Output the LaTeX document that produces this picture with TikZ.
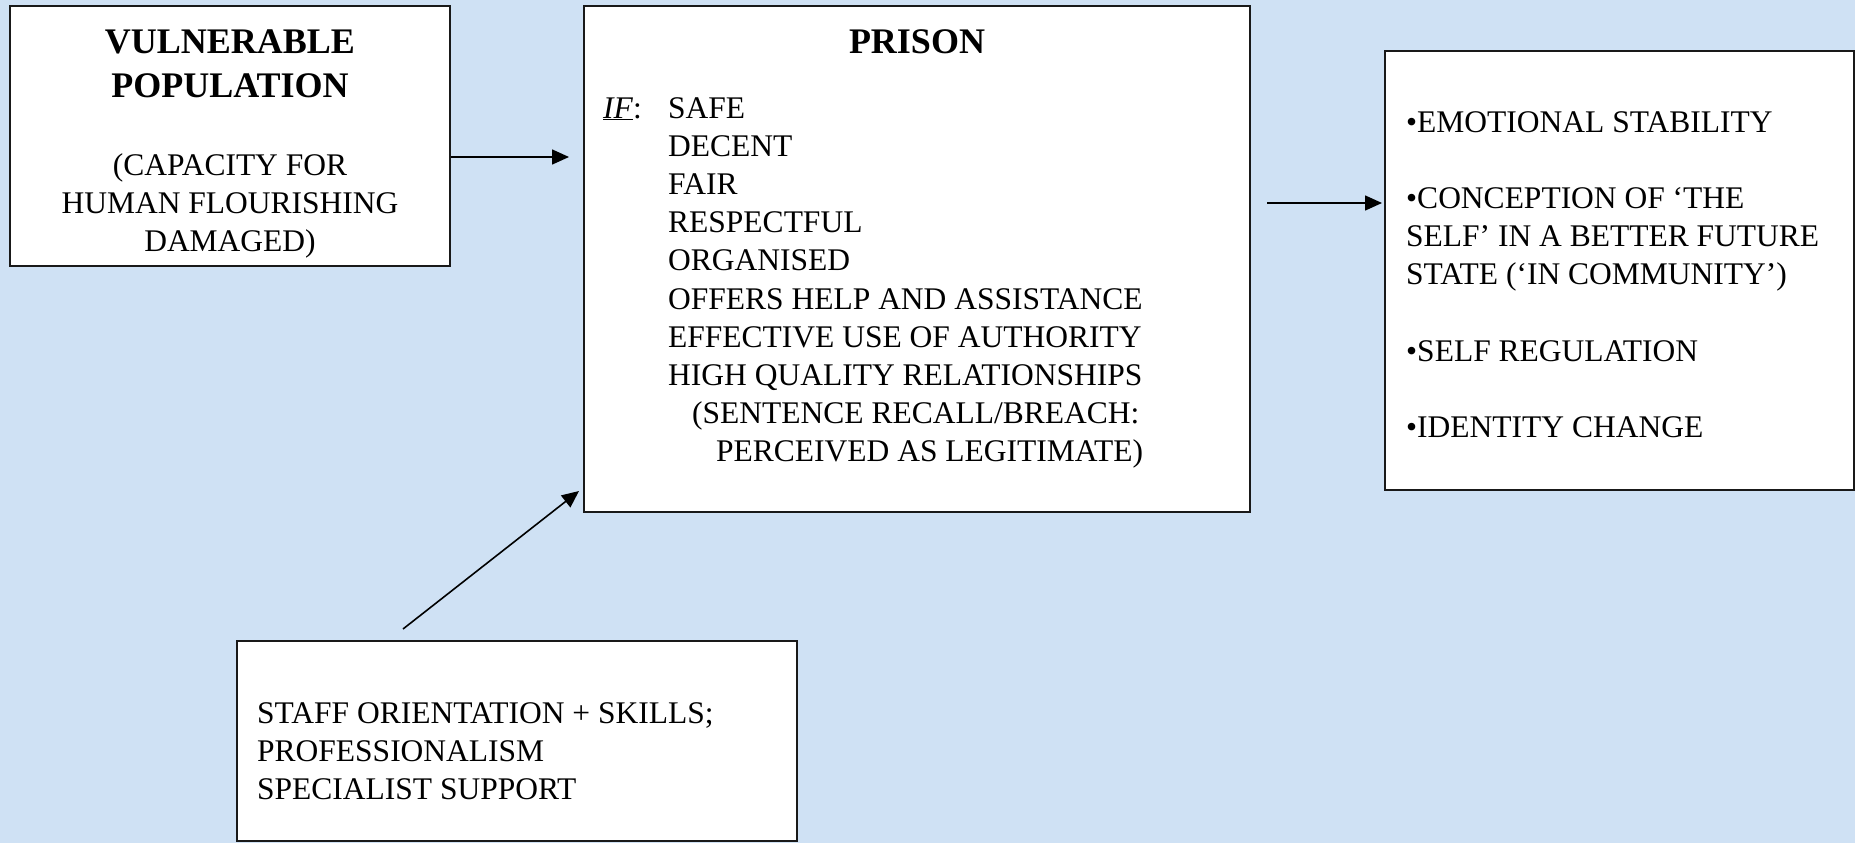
\documentclass[tikz,border=0pt]{standalone}
\usepackage{fontspec}
\setmainfont{Liberation Serif}
\usetikzlibrary{arrows.meta,calc}

\definecolor{sheet}{RGB}{207,225,244}
\newcommand\bodyfont{\fontsize{31.5}{38.2}\selectfont}
\newcommand\headfont{\fontsize{36}{43.5}\selectfont\bfseries}

\tikzset{
  panel/.style={draw=black!90, line width=2pt, fill=white, inner sep=0pt},
  words/.style={inner sep=0pt, font=\bodyfont, align=left},
  heading/.style={inner sep=0pt, font=\headfont, align=center},
  link/.style={line width=1.6pt, -{Triangle[length=17pt,width=15pt]}},
}

\begin{document}
\begin{tikzpicture}[x=1pt, y=-1pt]
  \useasboundingbox (0,0) rectangle (1855,843);
  \fill[sheet] (0,0) rectangle (1855,843);

  % boxes
  \node[panel, minimum width=440pt, minimum height=260pt] (vuln) at (230,136) {};
  \node[panel, minimum width=666pt, minimum height=506pt] (prison) at (917,259) {};
  \node[panel, minimum width=469pt, minimum height=439pt] (outcomes) at (1619.5,270.5) {};
  \node[panel, minimum width=560pt, minimum height=200pt] (staff) at (517,741) {};

  % vulnerable population
  \node[heading, anchor=north] (vulnhead) at (230,30) {VULNERABLE\\POPULATION};
  \node[words, align=center, anchor=north] (vulnnote) at (230,153)
    {(CAPACITY FOR\\HUMAN FLOURISHING\\DAMAGED)};

  % prison conditions
  \node[heading, anchor=base] (prisonhead) at (917,53) {PRISON};
  \node[words, anchor=base west] (ifword) at (603,118) {\underline{\textit{IF}}:};
  \node[words, anchor=north west] (conditions) at (668,97)
    {SAFE\\DECENT\\FAIR\\RESPECTFUL\\ORGANISED\\OFFERS HELP AND ASSISTANCE\\
     EFFECTIVE USE OF AUTHORITY\\HIGH QUALITY RELATIONSHIPS\\
     \hspace*{24pt}(SENTENCE RECALL/BREACH:\\
     \hspace*{48pt}PERCEIVED AS LEGITIMATE)};

  % outcomes
  \node[words, anchor=north west] (outlist) at (1406,111)
    {•EMOTIONAL STABILITY\\[38.2pt]
     •CONCEPTION OF ‘THE\\SELF’ IN A BETTER FUTURE\\STATE (‘IN COMMUNITY’)\\[38.2pt]
     •SELF REGULATION\\[38.2pt]
     •IDENTITY CHANGE};

  % staff
  \node[words, anchor=north west] (stafftext) at (257,702)
    {STAFF ORIENTATION + SKILLS;\\PROFESSIONALISM\\SPECIALIST SUPPORT};

  % connectors
  \coordinate (a1s) at ($(vuln.east)+(0,21)$);
  \draw[link] (a1s) -- ($(prison.west |- a1s)+(-14,0)$);

  \coordinate (a2s) at ($(prison.east)+(16,-56)$);
  \draw[link] (a2s) -- ($(outcomes.west |- a2s)+(-2,0)$);

  \coordinate (a3s) at ($(staff.north)+(-114,-11)$);
  \draw[link] (a3s) -- ($(prison.south west)+(-4,-22)$);
\end{tikzpicture}
\end{document}
